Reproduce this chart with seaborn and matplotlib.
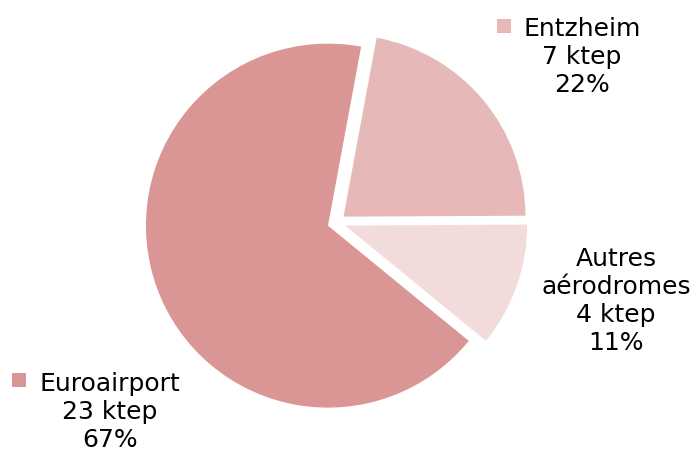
import matplotlib
matplotlib.use("Agg")
import matplotlib.pyplot as plt
from matplotlib.patches import Rectangle
import seaborn as sns

# Data
categories = ["Euroairport", "Autres\naérodromes", "Entzheim"]
ktep = [23, 4, 7]
percents = [67, 11, 22]
colors = ["#d99694", "#f2dcdb", "#e6b9b8"]

sns.set_theme(style="white")
plt.rcParams["font.family"] = ["DejaVu Sans"]

W, H = 693, 450
fig = plt.figure(figsize=(W / 100, H / 100), dpi=100)
ax = fig.add_axes([0, 0, 1, 1])

R = 182.0          # pie radius in pixels
cx, cy = 336.5, 222.5  # pie centre in image pixels (y from top)

ax.pie(percents, colors=colors, startangle=79.5, counterclock=True,
       explode=[0.05] * len(percents), radius=1.0,
       wedgeprops=dict(linewidth=0))
ax.set_xlim(-cx / R, (W - cx) / R)
ax.set_ylim(-(H - cy) / R, cy / R)
ax.set_aspect("auto")
ax.axis("off")

fs = 18
def label(xc, yc, text):
    fig.text(xc / W, 1 - yc / H, text, ha="center", va="center",
             fontsize=fs, color="black", linespacing=1.22)

def square(x0, y0, size, color):
    fig.add_artist(Rectangle((x0 / W, 1 - (y0 + size) / H), size / W, size / H,
                             transform=fig.transFigure, facecolor=color,
                             edgecolor="none"))

# Euroairport
label(110, 412, f"{categories[0]}\n{ktep[0]} ktep\n{percents[0]}%")
square(12, 373, 14, colors[0])
# Entzheim
label(582, 57, f"{categories[2]}\n{ktep[2]} ktep\n{percents[2]}%")
square(497, 19, 14, colors[2])
# Autres aérodromes
label(616, 301, f"{categories[1]}\n{ktep[1]} ktep\n{percents[1]}%")

fig.savefig("out.png", dpi=100)
